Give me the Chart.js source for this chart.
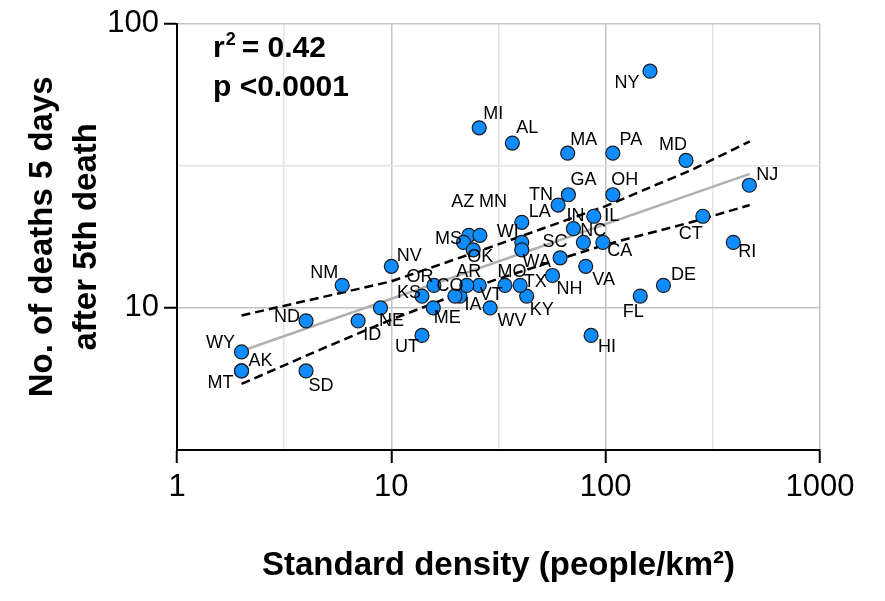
<!DOCTYPE html>
<html>
<head>
<meta charset="utf-8">
<script src="https://cdn.jsdelivr.net/npm/chart.js@4.4.1/dist/chart.umd.min.js"></script>
<style>
    html, body { margin: 0; padding: 0; background: #fff; }
    #wrap { width: 885px; height: 601px; }
</style>
</head>
<body>
<div id="wrap"><canvas id="myChart" width="885" height="601"></canvas></div>
<script>
// values (x = standard density, y = deaths 5 days after 5th death)
var states = ['NY', 'MI', 'AL', 'MA', 'PA', 'MD', 'NJ', 'GA', 'OH', 'TN',
    'LA', 'IN', 'IL', 'NC', 'CA', 'WI', 'WA', 'SC', 'NH', 'VA',
    'CT', 'RI', 'DE', 'FL', 'HI', 'KY', 'TX', 'MO', 'WV', 'IA',
    'VT', 'AR', 'CO', 'OR', 'KS', 'ME', 'UT', 'NE', 'ID', 'NV',
    'NM', 'ND', 'SD', 'WY', 'MT', 'AK', 'AZ', 'MN', 'MS', 'OK'];
var density = [161, 25.7, 36.7, 66.5, 108, 237, 468, 67, 108, 60,
    40.6, 70.7, 88, 78.7, 97, 40.6, 40.6, 61.3, 56.5, 80.7,
    284, 394, 186, 145, 85.5, 42.8, 39.9, 33.9, 28.9, 20.9,
    25.7, 22.5, 19.8, 15.8, 13.9, 15.7, 13.9, 8.9, 7, 10,
    5.9, 4, 4, 2, 2, 2, 23, 25.9, 21.7, 24.1];
var deaths = [68, 43, 38, 35, 35, 33, 27, 25, 25, 23,
    20, 19, 21, 17, 17, 17, 16, 15, 13, 14,
    21, 17, 12, 11, 8, 11, 12, 12, 10, 11,
    12, 12, 11, 12, 11, 10, 8, 10, 9, 14,
    12, 9, 6, 7, 6, 6, 18, 18, 17, 16];

// regression line and its 95% band, read at a few x positions
var fitX = [2, 470];
var fitY = [7.05, 29.6];
var bandX = [2, 5, 10, 30, 100, 250, 470];
var bandUpper = [9.4, 11.0, 12.4, 16.5, 22.8, 30.5, 38.5];
var bandLower = [5.4, 7.3, 9.1, 12.5, 16.7, 20.0, 23.0];

// labelled ticks; grid also sits on the half decades
var xTickValues = [1, 10, 100, 1000];
var yTickValues = [10, 100];

document.addEventListener('DOMContentLoaded', function () {
    var FONT = "'Liberation Sans', Arial, sans-serif";
    Chart.defaults.font.family = FONT;
    Chart.defaults.color = '#000';

    function withHalfDecades(vals, lo) {
        var out = [];
        vals.forEach(function (v) {
            if (v / Math.sqrt(10) >= lo - 1e-9) out.push(v / Math.sqrt(10));
            out.push(v);
        });
        return out.filter(function (v, i) { return out.indexOf(v) === i; })
            .sort(function (a, b) { return a - b; });
    }
    function isMajor(v) {
        var l = Math.log10(v);
        return Math.abs(l - Math.round(l)) < 1e-6;
    }

    // little label next to every state
    var labelOffset = {
        NY: [-23, 12], MI: [14, -14], AL: [15, -15], MA: [16, -13], PA: [18, -13],
        MD: [-13, -15], NJ: [18, -10], GA: [15, -15], OH: [12, -15], TN: [-17, -10],
        LA: [18, -10], IN: [2, -13], IL: [18, 0], NC: [10, -11], CA: [17, 9],
        WI: [-14, -10], WA: [15, 12], SC: [-5, -16], NH: [17, 14], VA: [18, 14],
        CT: [-12, 18], RI: [14, 10], DE: [20, -10], FL: [-7, 16], HI: [16, 12],
        KY: [15, 14], TX: [15, -3], MO: [7, -13], WV: [22, 13], IA: [13, 9],
        VT: [12, 10], AR: [2, -13], CO: [-5, -10], OR: [-14, -8], KS: [-13, -3],
        ME: [14, 10], UT: [-15, 12], NE: [11, 13], ID: [14, 14], NV: [18, -10],
        NM: [-18, -12], ND: [-19, -4], SD: [15, 15], WY: [-21, -9], MT: [-21, 12],
        AK: [19, -10], AZ: [-6, -33], MN: [13, -33], MS: [-15, -3], OK: [7, 7]
    };
    var stateLabels = {
        id: 'stateLabels',
        afterDatasetsDraw: function (chart) {
            var ctx = chart.ctx;
            var meta = chart.getDatasetMeta(0);
            ctx.save();
            ctx.font = '18px ' + FONT;
            ctx.fillStyle = '#000';
            ctx.textAlign = 'center';
            ctx.textBaseline = 'middle';
            meta.data.forEach(function (pt, i) {
                var off = labelOffset[states[i]] || [12, -10];
                ctx.fillText(states[i], pt.x + off[0], pt.y + off[1]);
            });
            ctx.restore();
        }
    };
    var statsText = {
        id: 'statsText',
        afterDraw: function (chart) {
            var ctx = chart.ctx;
            ctx.save();
            ctx.fillStyle = '#000';
            ctx.textBaseline = 'alphabetic';
            ctx.font = 'bold 30px ' + FONT;
            ctx.fillText('r', 213, 57);
            var w = ctx.measureText('r').width;
            ctx.font = 'bold 18px ' + FONT;
            ctx.fillText('2', 213 + w + 1, 45);
            ctx.font = 'bold 30px ' + FONT;
            ctx.fillText('= 0.42', 213 + w + 17, 57);
            ctx.fillText('p <0.0001', 213, 96);
            ctx.restore();
        }
    };

    var points = density.map(function (d, i) { return { x: d, y: deaths[i] }; });
    var fit = fitX.map(function (x, i) { return { x: x, y: fitY[i] }; });
    var upper = bandX.map(function (x, i) { return { x: x, y: bandUpper[i] }; });
    var lower = bandX.map(function (x, i) { return { x: x, y: bandLower[i] }; });

    var ctx = document.getElementById('myChart').getContext('2d');
    var myChart = new Chart(ctx, {
        type: 'scatter',
        data: {
            datasets: [{
                data: points,
                backgroundColor: '#0f8cff',
                borderColor: '#1a1a1a',
                borderWidth: 1.2,
                pointRadius: 7
            }, {
                data: fit,
                showLine: true,
                borderColor: '#b0b0b0',
                borderWidth: 2.5,
                pointRadius: 0
            }, {
                data: upper,
                showLine: true,
                borderColor: '#000',
                borderWidth: 2.5,
                borderDash: [9, 5],
                pointRadius: 0
            }, {
                data: lower,
                showLine: true,
                borderColor: '#000',
                borderWidth: 2.5,
                borderDash: [9, 5],
                pointRadius: 0
            }]
        },
        options: {
            responsive: false,
            animation: false,
            layout: { padding: { left: 0, right: 65, top: 21, bottom: 0 } },
            plugins: { legend: { display: false }, tooltip: { enabled: false } },
            scales: {
                x: {
                    type: 'logarithmic',
                    min: 1,
                    max: 1000,
                    afterBuildTicks: function (scale) {
                        scale.ticks = withHalfDecades(xTickValues, 1).map(function (v) { return { value: v }; });
                    },
                    afterFit: function (scale) { scale.height = 151; },
                    ticks: {
                        autoSkip: false,
                        maxRotation: 0,
                        padding: 6,
                        font: { size: 31 },
                        callback: function (v) { return isMajor(v) ? String(Math.round(v)) : ''; }
                    },
                    grid: {
                        color: function (c) { return isMajor(c.tick.value) ? '#c4c4c4' : '#e3e3e3'; },
                        lineWidth: 1.5,
                        tickLength: 13,
                        tickWidth: 2,
                        tickColor: function (c) { return isMajor(c.tick.value) ? '#000' : 'rgba(0,0,0,0)'; }
                    },
                    border: { display: true, color: '#000', width: 2 },
                    title: {
                        display: true,
                        text: 'Standard density (people/km\u00b2)',
                        font: { size: 33, weight: 'bold' },
                        padding: { top: 0, bottom: 15 }
                    }
                },
                y: {
                    type: 'logarithmic',
                    min: Math.sqrt(10),
                    max: 100,
                    afterBuildTicks: function (scale) {
                        scale.ticks = withHalfDecades(yTickValues, Math.sqrt(10)).map(function (v) { return { value: v }; });
                    },
                    afterFit: function (scale) { scale.width = 177; },
                    ticks: {
                        autoSkip: false,
                        padding: 5,
                        font: { size: 31 },
                        callback: function (v) { return isMajor(v) ? String(Math.round(v)) : ''; }
                    },
                    grid: {
                        color: function (c) { return isMajor(c.tick.value) ? '#c4c4c4' : '#e3e3e3'; },
                        lineWidth: 1.5,
                        tickLength: 13,
                        tickWidth: 2,
                        tickColor: function (c) { return isMajor(c.tick.value) ? '#000' : 'rgba(0,0,0,0)'; }
                    },
                    border: { display: true, color: '#000', width: 2 },
                    title: {
                        display: true,
                        text: ['No. of deaths 5 days', 'after 5th death'],
                        font: { size: 33, weight: 'bold', lineHeight: '44px' },
                        padding: { top: 21, bottom: 0 }
                    }
                }
            }
        },
        plugins: [stateLabels, statsText]
    });
});
</script>
</body>
</html>
